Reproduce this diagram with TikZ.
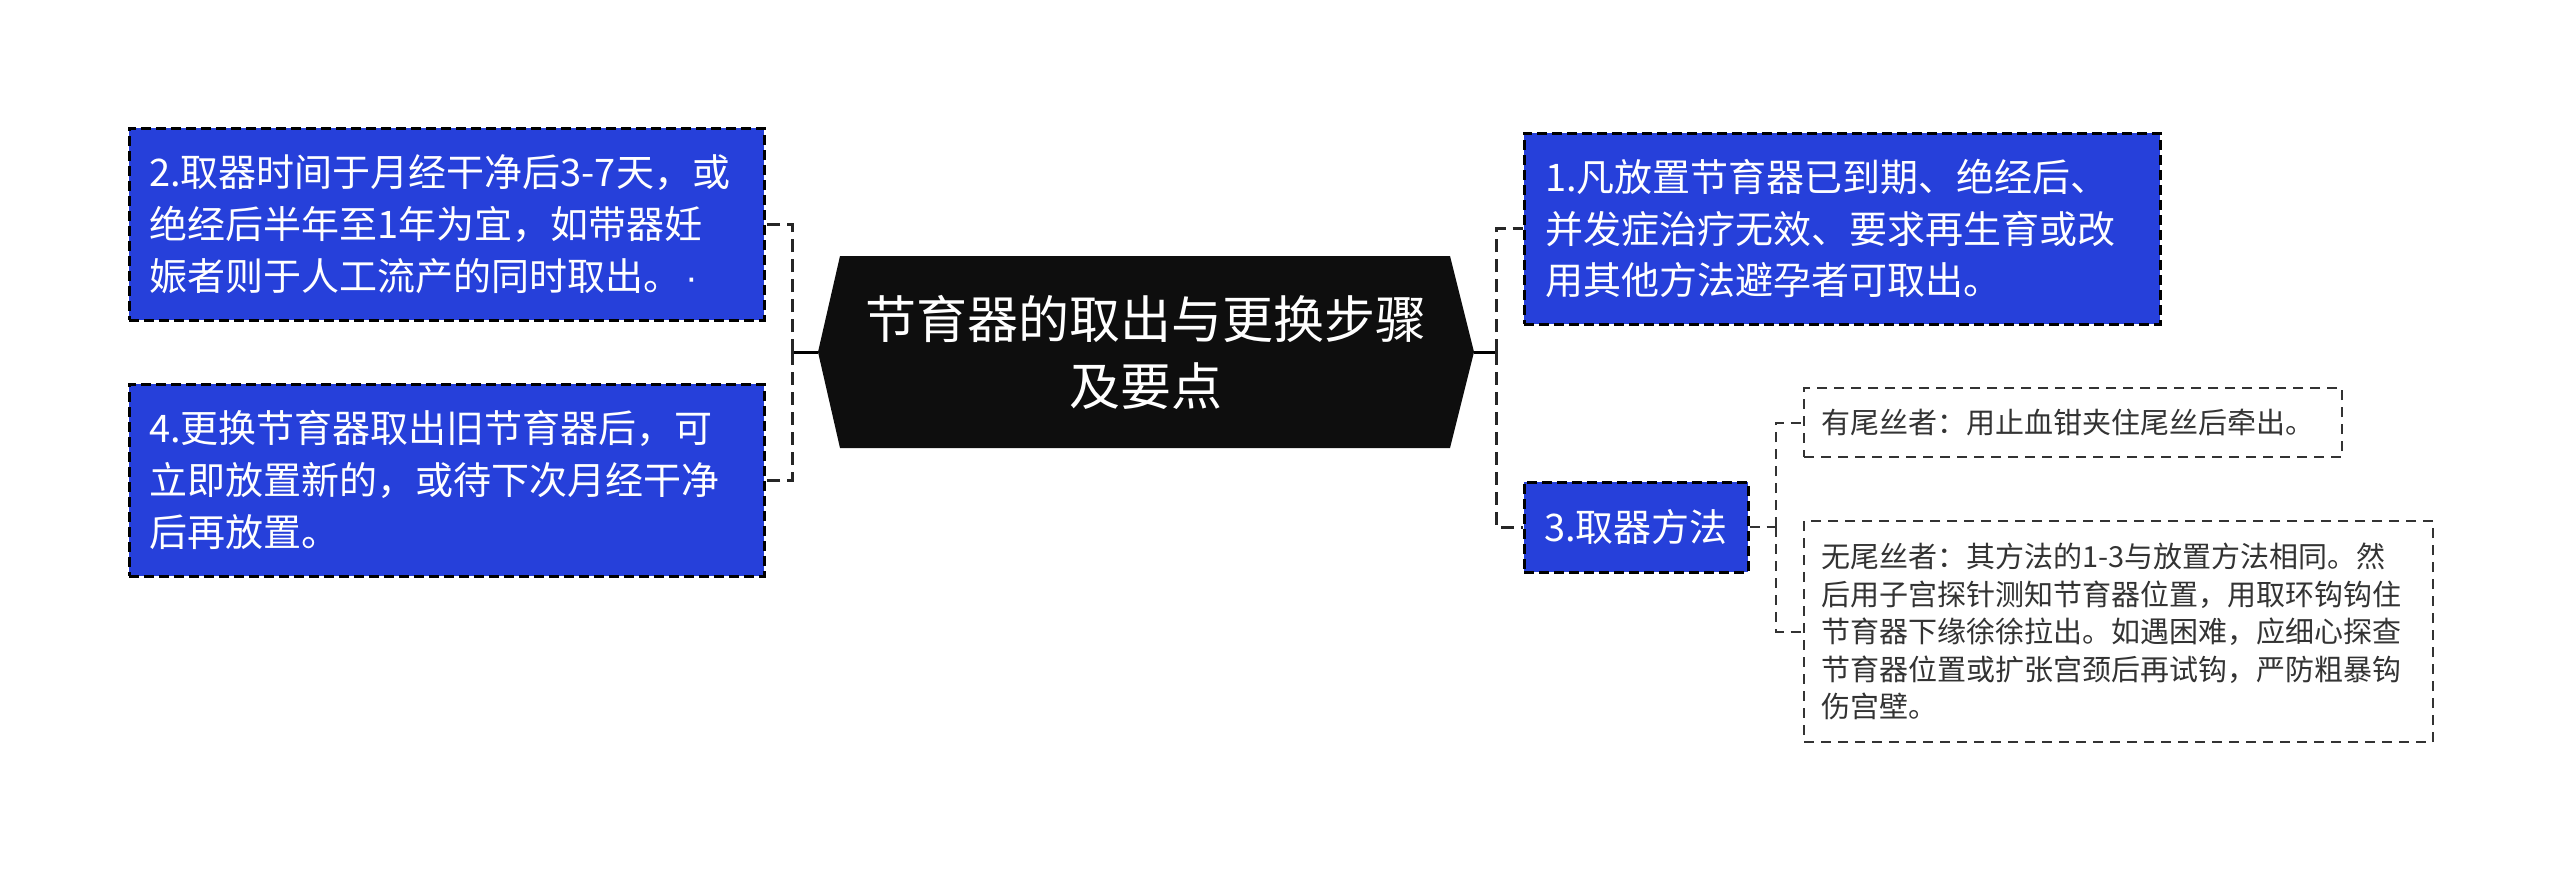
\documentclass[tikz,border=0pt]{standalone}
\usepackage{fontspec}
\setmainfont{Noto Sans CJK SC}
\newfontfamily\latinfont{Liberation Sans}
\definecolor{boxblue}{RGB}{38,64,218}
\definecolor{rootblack}{RGB}{14,14,14}
\definecolor{leafgray}{RGB}{51,51,51}
\begin{document}
\begin{tikzpicture}[x=1pt,y=-1pt]

    \tikzset{
      topic/.style={
        draw=black,
        fill=boxblue,
        text=white,
        line width=3pt,
        dash pattern=on 10pt off 5pt,
        inner sep=20pt,
        align=left,
        font=\fontsize{38pt}{51.7pt}\selectfont,
      },
      leaf/.style={
        draw=leafgray,
        fill=white,
        text=leafgray,
        line width=2pt,
        dash pattern=on 10pt off 7pt,
        inner sep=17pt,
        align=left,
        font=\fontsize{29pt}{37.6pt}\selectfont,
      },
      link/.style={
        draw=black!85,
        line width=3pt,
        dash pattern=on 13pt off 7pt,
      },
      leaflink/.style={
        draw=leafgray,
        line width=2pt,
        dash pattern=on 10pt off 7pt,
      },
    }
    \useasboundingbox[fill=white] (0,0) rectangle (2560,871);

	% central topic
	\fill[rootblack] (840,256)--(1450,256)--(1474,352)--(1450,448)--(840,448)--(818,352)--cycle;
	\node[text=white, align=center, font=\fontsize{51pt}{67pt}\selectfont] (root) at (1146,352) {节育器的取出与更换步骤\\及要点};
	\coordinate (rootL) at (818,352);
	\coordinate (rootR) at (1474,352);
	\coordinate (jl) at (792,352);
	\coordinate (jr) at (1496,352);

	\node[topic, text width=595pt, minimum height=192pt] (q2) at (446.5,224) {2.取器时间于月经干净后3-7天，或\\绝经后半年至1年为宜，如带器妊\\娠者则于人工流产的同时取出。{\latinfont\kern4pt·}};
	\node[topic, text width=595pt, minimum height=192pt] (q4) at (446.5,480) {4.更换节育器取出旧节育器后，可\\立即放置新的，或待下次月经干净\\后再放置。};
	\node[topic, text width=594pt, minimum height=191pt, inner sep=21pt] (q1) at (1842,228.5) {1.凡放置节育器已到期、绝经后、\\并发症治疗无效、要求再生育或改\\用其他方法避孕者可取出。};
	\node[topic, align=center, minimum width=224pt, minimum height=90pt, inner sep=0pt] (q3) at (1636,527) {3.取器方法};
	\coordinate (jc) at (1776,527);

	\node[leaf, text width=504pt, minimum height=69pt] (q3a) at (2073,422.5) {有尾丝者：用止血钳夹住尾丝后牵出。};
	\node[leaf, text width=595pt, minimum height=221pt] (q3b) at (2118.5,631.5) {无尾丝者：其方法的1-3与放置方法相同。然\\后用子宫探针测知节育器位置，用取环钩钩住\\节育器下缘徐徐拉出。如遇困难，应细心探查\\节育器位置或扩张宫颈后再试钩，严防粗暴钩\\伤宫壁。};

	\draw[black, line width=3pt] (rootL)--(jl);
	\draw[black, line width=3pt] (rootR)--(jr);
	\draw[link] (jl) |- (q2.east);
	\draw[link] (jl) |- (q4.east);
	\draw[link] (jr) |- (q1.west);
	\draw[link] (jr) |- (q3.west);
	\draw[leaflink] (q3.east)--(jc);
	\draw[leaflink] (jc) |- (q3a.west);
	\draw[leaflink] (jc) |- (q3b.west);

\end{tikzpicture}
\end{document}
